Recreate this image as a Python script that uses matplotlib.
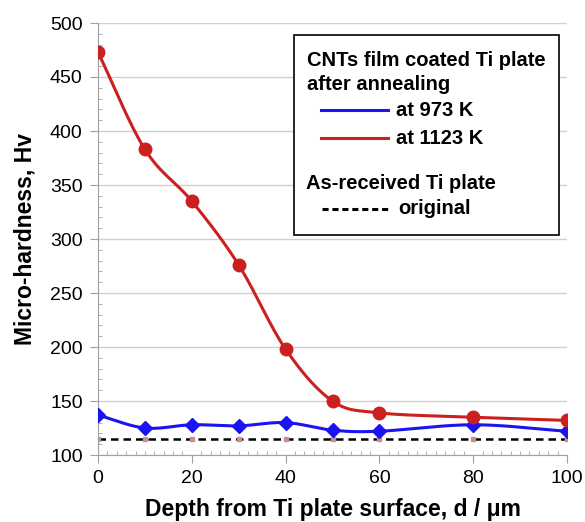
import numpy as np
import matplotlib.pyplot as plt
from matplotlib.patches import Rectangle
from matplotlib.ticker import MultipleLocator

plt.rcParams['font.family'] = ['Liberation Sans', 'DejaVu Sans']

depth = [0, 10, 20, 30, 40, 50, 60, 80, 100]
hv_1123 = [473, 383, 335, 276, 198, 150, 139, 135, 132]
hv_973 = [137, 125, 128, 127, 130, 123, 122, 128, 122]
hv_original = [115, 115, 115, 115, 115, 115, 115, 115, 115]

RED = "#cc1f1f"
BLUE = "#1a14f0"


def smooth(x, y, n=30):
    # Catmull-Rom style smoothing, similar to a spreadsheet "smoothed line"
    x = np.asarray(x, float)
    y = np.asarray(y, float)
    px = np.concatenate([[2*x[0]-x[1]], x, [2*x[-1]-x[-2]]])
    py = np.concatenate([[2*y[0]-y[1]], y, [2*y[-1]-y[-2]]])
    xs, ys = [], []
    for i in range(1, len(px) - 2):
        t = np.linspace(0, 1, n)
        p0, p1, p2, p3 = [np.array([px[j], py[j]]) for j in range(i-1, i+3)]
        c1 = p1 + (p2 - p0) / 6
        c2 = p2 - (p3 - p1) / 6
        pts = ((1-t)**3)[:, None]*p1 + (3*(1-t)**2*t)[:, None]*c1 \
            + (3*(1-t)*t**2)[:, None]*c2 + (t**3)[:, None]*p2
        xs.append(pts[:, 0])
        ys.append(pts[:, 1])
    return np.concatenate(xs), np.concatenate(ys)


W, H = 585, 522
fig = plt.figure(figsize=(W/100, H/100), dpi=100)
ax = fig.add_axes([98/W, 1-455/H, (567-98)/W, (455-23)/H])

sx, sy = smooth(depth, hv_973)
ax.plot(sx, sy, color=BLUE, lw=2.2, zorder=3)
ax.plot(depth, hv_973, "D", color=BLUE, ms=7, zorder=4)

sx, sy = smooth(depth, hv_1123)
ax.plot(sx, sy, color=RED, lw=2.2, zorder=3)
ax.plot(depth, hv_1123, "o", color=RED, ms=9, zorder=4)

ax.plot(depth, hv_original, "--", color="black", lw=1.8, dashes=(3, 2), zorder=2)
ax.plot(depth, hv_original, "s", color="#c89090", ms=2.5, zorder=2)

ax.set_xlim(0, 100)
ax.set_ylim(100, 500)
ax.xaxis.set_major_locator(MultipleLocator(20))
ax.xaxis.set_minor_locator(MultipleLocator(2))
ax.yaxis.set_major_locator(MultipleLocator(50))
ax.yaxis.set_minor_locator(MultipleLocator(10))
ax.grid(axis="y", color="#d0d0d0", lw=1)
ax.set_axisbelow(True)
for s in ["top", "right"]:
    ax.spines[s].set_visible(False)
for s in ["left", "bottom"]:
    ax.spines[s].set_color("#a0a0a0")
ax.tick_params(which="major", direction="out", length=6, color="#a0a0a0",
               labelsize=14, pad=5)
ax.tick_params(which="minor", direction="in", length=3, color="#a0a0a0")
ax.set_xlabel("Depth from Ti plate surface, d / \u03bcm", fontsize=16.5,
              fontweight="bold", labelpad=8)
ax.set_ylabel("Micro-hardness, Hv", fontsize=16.5, fontweight="bold", labelpad=10)


# legend drawn by hand, positions in pixels of the figure
def fx(px):
    return px / W


def fy(py):
    return 1 - py / H


fig.patches.append(Rectangle((fx(294), fy(235)), fx(559) - fx(294), fy(35) - fy(235),
                             transform=fig.transFigure, facecolor="white",
                             edgecolor="black", lw=1.2, zorder=5))
kw = dict(fontsize=14.5, fontweight="bold", va="center", ha="left", zorder=6)
fig.text(fx(307), fy(60), "CNTs film coated Ti plate", **kw)
fig.text(fx(307), fy(85), "after annealing", **kw)
fig.lines.append(plt.Line2D([fx(321), fx(388)], [fy(110), fy(110)],
                            transform=fig.transFigure, color=BLUE, lw=2.2, zorder=6))
fig.text(fx(396), fy(110), "at 973 K", **kw)
fig.lines.append(plt.Line2D([fx(321), fx(388)], [fy(138), fy(138)],
                            transform=fig.transFigure, color=RED, lw=2.2, zorder=6))
fig.text(fx(396), fy(138), "at 1123 K", **kw)
fig.text(fx(306), fy(183), "As-received Ti plate", **kw)
fig.lines.append(plt.Line2D([fx(322), fx(389)], [fy(209), fy(209)],
                            transform=fig.transFigure, color="black", lw=2.2,
                            dashes=(2.0, 1.25), zorder=6))
fig.text(fx(398), fy(209), "original", **kw)

fig.savefig("out.png", dpi=100)
